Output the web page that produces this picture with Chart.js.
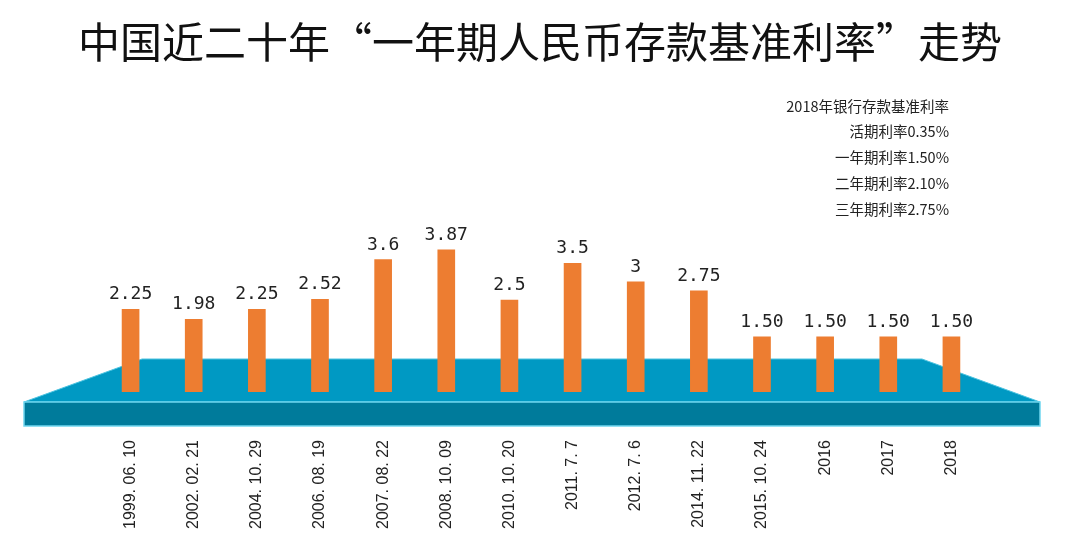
<!DOCTYPE html>
<html lang="zh-CN">
<head>
<meta charset="utf-8">
<title>一年期人民币存款基准利率走势</title>
<script src="https://cdn.jsdelivr.net/npm/chart.js@4.4.1/dist/chart.umd.min.js"></script>
<style>
  html, body { margin: 0; padding: 0; background: #fff; }
  canvas { display: block; }
</style>
</head>
<body>
<canvas id="rateChart" width="1080" height="547"></canvas>
<script>
const chartTitle = "中国近二十年“一年期人民币存款基准利率”走势";

const dates = [
  "1999. 06. 10", "2002. 02. 21", "2004. 10. 29", "2006. 08. 19", "2007. 08. 22",
  "2008. 10. 09", "2010. 10. 20", "2011. 7. 7", "2012. 7. 6", "2014. 11. 22",
  "2015. 10. 24", "2016", "2017", "2018",
];
const rates = [2.25, 1.98, 2.25, 2.52, 3.6, 3.87, 2.5, 3.5, 3, 2.75, 1.5, 1.5, 1.5, 1.5];
const rateLabels = ["2.25", "1.98", "2.25", "2.52", "3.6", "3.87", "2.5", "3.5", "3", "2.75", "1.50", "1.50", "1.50", "1.50"];

const noteLines = [
  "2018年银行存款基准利率",
  "活期利率0.35%",
  "一年期利率1.50%",
  "二年期利率2.10%",
  "三年期利率2.75%",
];

// teal slab the bars stand on, plus the text the built-in plugins can't place
const platformPlugin = {
  id: "platform",
  beforeDatasetsDraw(chart) {
    const { ctx, chartArea, scales } = chart;
    const base = scales.y.getPixelForValue(0);
    const topY = base - 33, midY = base + 10, botY = base + 34;
    const l = chartArea.left - 75, r = chartArea.right + 57;
    const tl = chartArea.left + 43, tr = chartArea.right - 61;

    ctx.save();
    ctx.beginPath();
    ctx.moveTo(tl, topY);
    ctx.lineTo(tr, topY);
    ctx.lineTo(r, midY);
    ctx.lineTo(l, midY);
    ctx.closePath();
    ctx.fillStyle = "#0099c3";
    ctx.fill();
    ctx.strokeStyle = "#4cc3e0";
    ctx.lineWidth = 1;
    ctx.stroke();

    ctx.fillStyle = "#007b9b";
    ctx.fillRect(l, midY, r - l, botY - midY);
    ctx.strokeStyle = "#6fd6ef";
    ctx.lineWidth = 1.5;
    ctx.strokeRect(l, midY, r - l, botY - midY);
    ctx.restore();
  },
  afterDatasetsDraw(chart) {
    const { ctx } = chart;
    const meta = chart.getDatasetMeta(0);
    ctx.save();
    ctx.font = "18px 'DejaVu Sans Mono', monospace";
    ctx.fillStyle = "#222";
    ctx.textAlign = "center";
    ctx.textBaseline = "alphabetic";
    meta.data.forEach((bar, i) => {
      ctx.fillText(rateLabels[i], bar.x, bar.y - 10);
    });
    ctx.restore();
  },
  afterDraw(chart) {
    const { ctx, width } = chart;
    ctx.save();
    ctx.font = "42px 'Noto Sans CJK SC', sans-serif";
    ctx.fillStyle = "#111";
    ctx.textAlign = "center";
    ctx.textBaseline = "middle";
    ctx.fillText(chartTitle, width / 2, 42);

    ctx.font = "14.5px 'Noto Sans CJK SC', sans-serif";
    ctx.fillStyle = "#222";
    ctx.textAlign = "right";
    noteLines.forEach((line, i) => {
      ctx.fillText(line, 949, 106 + i * 25.8);
    });
    ctx.restore();
  },
};

new Chart(document.getElementById("rateChart"), {
  type: "bar",
  data: {
    labels: dates,
    datasets: [
      {
        data: rates,
        backgroundColor: "#ed7d31",
        barThickness: 17,
      },
    ],
  },
  options: {
    responsive: false,
    animation: false,
    layout: { padding: { left: 99, right: 97, top: 98, bottom: 0 } },
    plugins: {
      legend: { display: false },
      tooltip: { enabled: false },
      title: { display: false },
    },
    scales: {
      x: {
        grid: { display: false, drawTicks: false },
        border: { display: false },
        ticks: {
          autoSkip: false,
          minRotation: 90,
          maxRotation: 90,
          padding: 48,
          color: "#222",
          font: { family: "'Liberation Sans', Arial, sans-serif", size: 16 },
        },
        afterFit(scale) {
          scale.height = 155;
        },
      },
      y: { display: false, min: 0, max: 8 },
    },
  },
  plugins: [platformPlugin],
});
</script>
</body>
</html>
